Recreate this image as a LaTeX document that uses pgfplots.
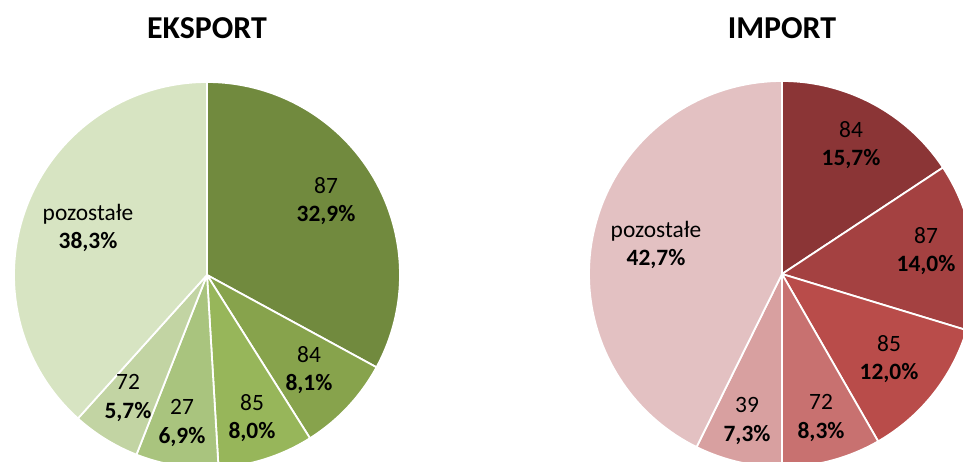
\documentclass[border=0pt]{standalone}
\usepackage{pgfplots}
\pgfplotsset{compat=1.18}
\usepackage{fontspec}
\setmainfont{Carlito}
\definecolor{e1}{HTML}{718A3E}
\definecolor{e2}{HTML}{87A34C}
\definecolor{e3}{HTML}{97B65A}
\definecolor{e4}{HTML}{A9C47E}
\definecolor{e5}{HTML}{C2D4A3}
\definecolor{e6}{HTML}{D7E4C2}
\definecolor{i1}{HTML}{8B3536}
\definecolor{i2}{HTML}{A44141}
\definecolor{i3}{HTML}{B94C4A}
\definecolor{i4}{HTML}{C87170}
\definecolor{i5}{HTML}{D8A0A0}
\definecolor{i6}{HTML}{E3C1C2}
\newcommand\startslices{\gdef\startang{90}}
% #1 cx, #2 cy, #3 colour, #4 percent, #5 total
\newcommand\slice[5]{%
  \pgfmathsetmacro\endang{\startang-360*#4/#5}%
  \edef\tmp{\noexpand\addplot[fill=#3,draw=white,line width=1.8pt,line join=round,domain=\endang:\startang,samples=90] ({#1+193*cos(x)},{#2+193*sin(x)}) -- (axis cs:#1,#2) -- cycle;}%
  \tmp
  \xdef\startang{\endang}%
}
\begin{document}
\begin{tikzpicture}
\begin{axis}[
  scale only axis, width=963bp, height=462bp,
  xmin=0, xmax=963, ymin=0, ymax=462,
  hide axis, clip=true,
]
% EKSPORT (share in %)
\startslices
\slice{207}{187}{e1}{32.9}{99.9}
\slice{207}{187}{e2}{8.1}{99.9}
\slice{207}{187}{e3}{8.0}{99.9}
\slice{207}{187}{e4}{6.9}{99.9}
\slice{207}{187}{e5}{5.7}{99.9}
\slice{207}{187}{e6}{38.3}{99.9}
% IMPORT (share in %)
\startslices
\slice{782}{188}{i1}{15.7}{100}
\slice{782}{188}{i2}{14.0}{100}
\slice{782}{188}{i3}{12.0}{100}
\slice{782}{188}{i4}{8.3}{100}
\slice{782}{188}{i5}{7.3}{100}
\slice{782}{188}{i6}{42.7}{100}

\tikzset{lab/.style={font=\fontsize{23.5}{28.5}\selectfont, align=center, inner sep=0pt}}
\node[font=\fontsize{32}{32}\selectfont\bfseries] at (axis cs:207,434) {EKSPORT};
\node[font=\fontsize{32}{32}\selectfont\bfseries] at (axis cs:782,434) {IMPORT};

\node[lab] at (axis cs:326,261) {87\\\textbf{32,9\%}};
\node[lab] at (axis cs:309,92) {84\\\textbf{8,1\%}};
\node[lab] at (axis cs:252,44) {85\\\textbf{8,0\%}};
\node[lab] at (axis cs:182,39) {27\\\textbf{6,9\%}};
\node[lab] at (axis cs:128,64) {72\\\textbf{5,7\%}};
\node[lab] at (axis cs:88,234) {pozostałe\\\textbf{38,3\%}};

\node[lab] at (axis cs:851,317) {84\\\textbf{15,7\%}};
\node[lab] at (axis cs:926,211) {87\\\textbf{14,0\%}};
\node[lab] at (axis cs:889,103) {85\\\textbf{12,0\%}};
\node[lab] at (axis cs:821,44) {72\\\textbf{8,3\%}};
\node[lab] at (axis cs:747,41) {39\\\textbf{7,3\%}};
\node[lab] at (axis cs:656,217) {pozostałe\\\textbf{42,7\%}};
\end{axis}
\pgfresetboundingbox
\useasboundingbox (current axis.south west) rectangle (current axis.north east);
\end{tikzpicture}
\end{document}
